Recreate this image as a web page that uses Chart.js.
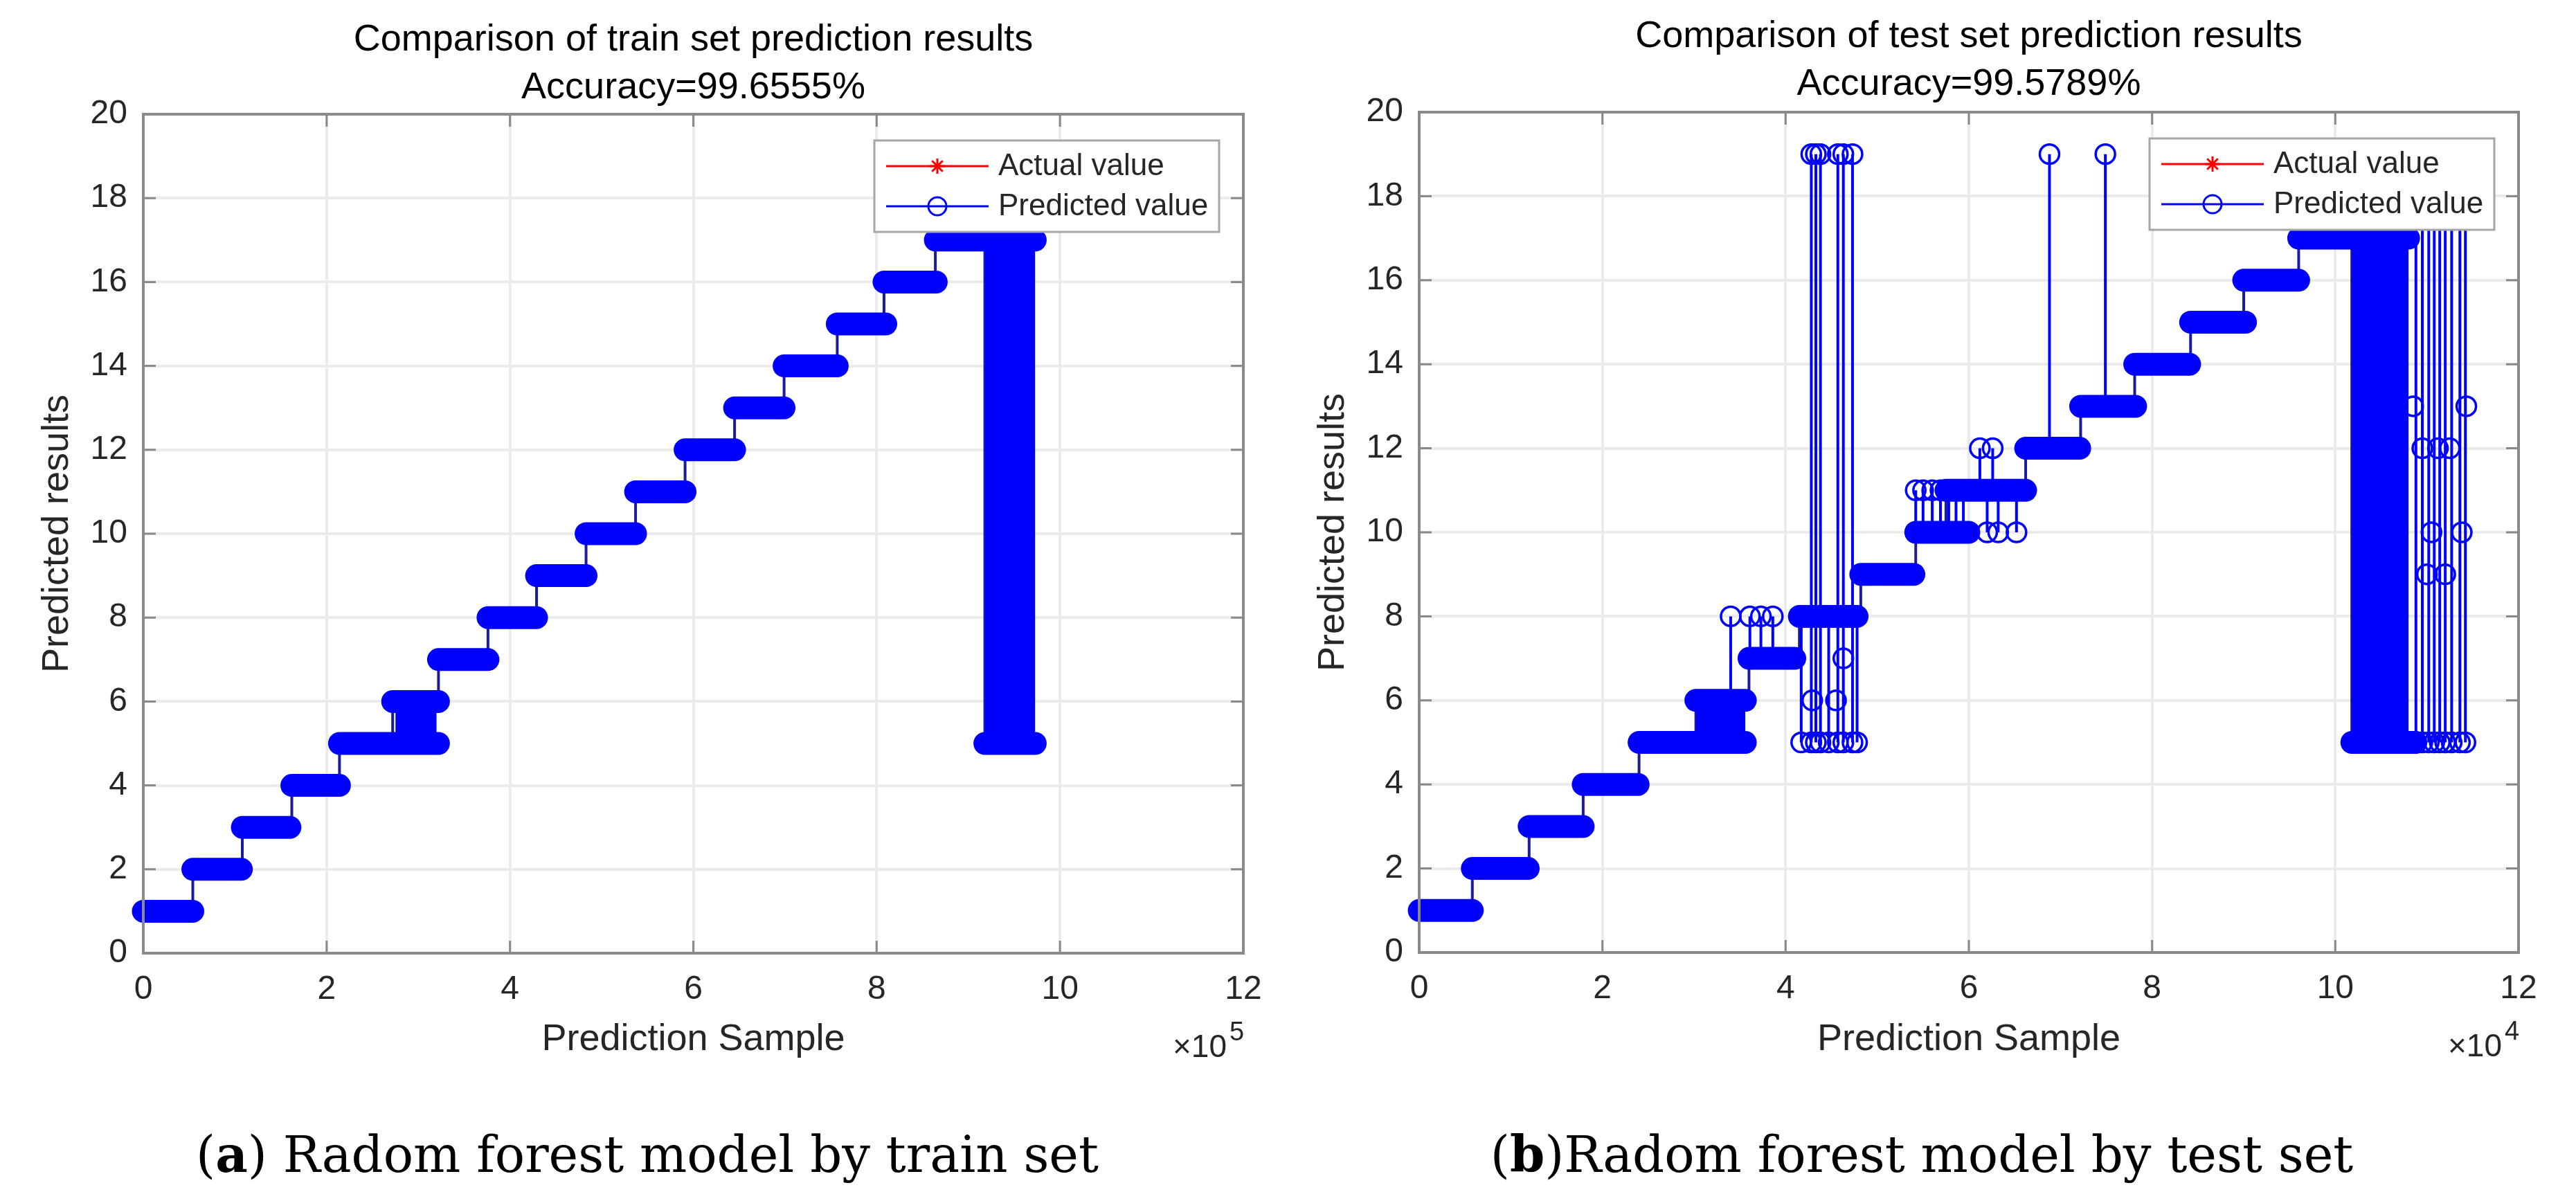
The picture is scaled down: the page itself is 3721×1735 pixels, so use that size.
<!DOCTYPE html>
<html>
<head>
<meta charset="utf-8">
<script src="https://cdn.jsdelivr.net/npm/chart.js@4.4.1/dist/chart.umd.min.js"></script>
<style>
  html, body { margin: 0; padding: 0; background: #fff; }
  body { width: 3721px; height: 1735px; position: relative; overflow: hidden; }
  canvas { position: absolute; top: 0; }
  #trainChart { left: 0; }
  #testChart { left: 1860px; }
  .caption { position: absolute; top: 1632px; font-family: "DejaVu Serif", serif; font-size: 72px; line-height: 72px; text-align: center; color: #000; white-space: nowrap; }
</style>
</head>
<body>
<canvas id="trainChart" width="1860" height="1560"></canvas>
<canvas id="testChart" width="1861" height="1560"></canvas>
<div class="caption" style="left:0;width:1870px">(<b>a</b>) Radom forest model by train set</div>
<div class="caption" style="left:1860px;width:1832px">(<b>b</b>)Radom forest model by test set</div>
<script>
// tick labels (x in units of the x10^n multiplier)
const xTicks = [0, 2, 4, 6, 8, 10, 12];
const yTicks = [0, 2, 4, 6, 8, 10, 12, 14, 16, 18, 20];

// ---- train set (x10^5 samples) ----
const trainClass = [1, 2, 3, 4, 5, 6, 7, 8, 9, 10, 11, 12, 13, 14, 15, 16, 17, 5];
const trainStart = [0.00, 0.54, 1.08, 1.62, 2.14, 2.72, 3.22, 3.76, 4.29, 4.83, 5.37, 5.91, 6.45, 6.99, 7.57, 8.08, 8.64, 9.18];
const trainEnd   = [0.54, 1.07, 1.60, 2.14, 3.22, 3.22, 3.76, 4.29, 4.83, 5.37, 5.91, 6.45, 6.99, 7.57, 8.10, 8.65, 9.73, 9.73];
// dense regions where the prediction flips back and forth
const trainBlockStart = [2.75, 9.18];
const trainBlockEnd   = [3.20, 9.73];
const trainBlockLow   = [5, 5];
const trainBlockHigh  = [6, 17];
const trainSpikeX = [];
const trainSpikeFrom = [];
const trainSpikeTo = [];
const trainStrayX = [];
const trainStrayY = [];

// ---- test set (x10^4 samples) ----
const testClass = [1, 2, 3, 4, 5, 6, 7, 8, 9, 10, 11, 12, 13, 14, 15, 16, 17, 5];
const testStart = [0.00, 0.58, 1.20, 1.79, 2.40, 3.02, 3.60, 4.15, 4.82, 5.42, 5.75, 6.62, 7.22, 7.81, 8.42, 9.00, 9.60, 10.18];
const testEnd   = [0.58, 1.19, 1.79, 2.39, 3.56, 3.56, 4.10, 4.78, 5.40, 6.00, 6.62, 7.21, 7.82, 8.41, 9.02, 9.60, 10.80, 10.88];
const testBlockStart = [3.02, 10.18];
const testBlockEnd   = [3.56, 10.80];
const testBlockLow   = [5, 5];
const testBlockHigh  = [6, 17];
// single mispredictions: vertical jump from one class to another
const testSpikeX    = [3.40, 3.61, 3.73, 3.86, 4.17, 4.28, 4.33, 4.38, 4.47, 4.57, 4.63, 4.73, 4.78,
                       5.42, 5.50, 5.60, 5.69, 5.78, 5.86, 5.94, 6.12, 6.26, 6.20, 6.32, 6.52, 6.88, 7.49,
                       10.88, 10.95, 11.02, 11.08, 11.14, 11.20, 11.27, 11.36, 11.42];
const testSpikeFrom = [6, 7, 7, 7, 8, 5, 5, 5, 8, 5, 5, 5, 8,
                       10, 10, 10, 10, 10, 10, 10, 11, 11, 11, 11, 11, 12, 13,
                       5, 5, 5, 5, 5, 5, 5, 5, 5];
const testSpikeTo   = [8, 8, 8, 8, 5, 19, 19, 19, 5, 19, 19, 19, 5,
                       11, 11, 11, 11, 11, 11, 11, 12, 12, 10, 10, 10, 19, 19,
                       18, 18, 18, 18, 18, 18, 18, 18, 18];
const testStrayX = [4.29, 4.55, 4.63, 10.85, 11.43, 10.95, 11.12, 11.25, 11.05, 11.38, 11.00, 11.20];
const testStrayY = [6, 6, 7, 13, 13, 12, 12, 12, 10, 10, 9, 9];

const FONT = '"Liberation Sans", Arial, Helvetica, sans-serif';
const BLUE = '#0000ff';
const TEXT = '#262626';
const AXIS = '#8a8a8a';
const GRID = '#ebebeb';

function bandData(cls, st, en) {
    const out = [];
    cls.forEach((c, i) => {
        out.push({ x: st[i], y: c }, { x: en[i], y: c }, { x: en[i], y: null });
    });
    return out;
}

function connectorData(cls, st) {
    const out = [];
    for (let i = 1; i < cls.length; i++) {
        out.push({ x: st[i], y: cls[i - 1] }, { x: st[i], y: cls[i] }, { x: st[i], y: null });
    }
    return out;
}

function spikeData(xs, from, to) {
    const out = [];
    xs.forEach((x, i) => {
        out.push({ x: x, y: from[i] }, { x: x, y: to[i] }, { x: x, y: null });
    });
    return out;
}

const circle = {
    pointStyle: 'circle',
    pointRadius: ctx => (ctx.raw && ctx.raw.y != null ? 14 : 0),
    pointBorderWidth: 3.5,
    pointBorderColor: BLUE,
    pointBackgroundColor: 'rgba(0,0,0,0)'
};

function buildDatasets(d) {
    const sets = [
        {
            label: 'Actual value', inLegend: true, legendMarker: 'star',
            data: bandData(d.cls, d.st, d.en),
            borderColor: '#ff0000', pointBorderColor: '#ff0000', borderWidth: 3, pointRadius: 0, order: 6
        },
        {
            label: 'Predicted value', inLegend: true, legendMarker: 'circle',
            data: bandData(d.cls, d.st, d.en),
            borderColor: BLUE, pointBorderColor: BLUE, borderWidth: 33, borderCapStyle: 'round',
            pointRadius: 0, clip: false, order: 2
        },
        {
            label: 'steps', data: connectorData(d.cls, d.st),
            borderColor: '#1c1c9a', borderWidth: 4, pointRadius: 0, order: 4
        },
        {
            label: 'spikes', data: spikeData(d.spX, d.spFrom, d.spTo),
            borderColor: BLUE, borderWidth: 4, ...circle, order: 1
        },
        {
            label: 'strays', data: d.strayX.map((x, i) => ({ x: x, y: d.strayY[i] })),
            showLine: false, ...circle, order: 0
        }
    ];
    d.bS.forEach((s, i) => {
        sets.push({
            label: 'block', data: [{ x: s, y: d.bH[i] }, { x: d.bE[i], y: d.bH[i] }],
            borderWidth: 0, pointRadius: 0, borderColor: BLUE,
            backgroundColor: BLUE, fill: { value: d.bL[i] }, order: 3
        });
    });
    return sets;
}

const framePlugin = {
    id: 'frame',
    afterDatasetsDraw(chart, args, opts) {
        const { ctx, chartArea: a, scales: { x, y } } = chart;
        ctx.save();
        ctx.strokeStyle = AXIS;
        ctx.lineWidth = 3;
        ctx.beginPath();
        xTicks.forEach(v => {
            const px = x.getPixelForValue(v);
            ctx.moveTo(px, a.bottom); ctx.lineTo(px, a.bottom - 18);
            ctx.moveTo(px, a.top); ctx.lineTo(px, a.top + 18);
        });
        yTicks.forEach(v => {
            const py = y.getPixelForValue(v);
            ctx.moveTo(a.left, py); ctx.lineTo(a.left + 18, py);
            ctx.moveTo(a.right, py); ctx.lineTo(a.right - 18, py);
        });
        ctx.stroke();
        ctx.lineWidth = 4;
        ctx.strokeRect(a.left, a.top, a.right - a.left, a.bottom - a.top);

        // legend box, top right inside the axes
        const bw = 498, bh = 132;
        const bx = a.right - 35 - bw, by = a.top + 38;
        ctx.fillStyle = '#fff';
        ctx.fillRect(bx, by, bw, bh);
        ctx.strokeStyle = '#a6a6a6';
        ctx.lineWidth = 3;
        ctx.strokeRect(bx, by, bw, bh);
        const items = chart.data.datasets.filter(ds => ds.inLegend);
        items.forEach((ds, i) => {
            const cy = by + 37 + i * 58;
            const mx = bx + 91;
            ctx.strokeStyle = ds.pointBorderColor;
            ctx.lineWidth = 3;
            ctx.beginPath();
            ctx.moveTo(bx + 17, cy); ctx.lineTo(bx + 165, cy);
            ctx.stroke();
            ctx.beginPath();
            if (ds.legendMarker === 'star') {
                const r = 11;
                for (let k = 0; k < 4; k++) {
                    const ang = k * Math.PI / 4;
                    ctx.moveTo(mx - r * Math.cos(ang), cy - r * Math.sin(ang));
                    ctx.lineTo(mx + r * Math.cos(ang), cy + r * Math.sin(ang));
                }
            } else {
                ctx.arc(mx, cy, 13, 0, Math.PI * 2);
            }
            ctx.stroke();
            ctx.fillStyle = TEXT;
            ctx.font = '44px ' + FONT;
            ctx.textAlign = 'left';
            ctx.textBaseline = 'middle';
            ctx.fillText(ds.label, bx + 179, cy + 1);
        });
        ctx.restore();
    },
    afterDraw(chart, args, opts) {
        const { ctx, chartArea: a } = chart;
        ctx.save();
        ctx.fillStyle = TEXT;
        ctx.textBaseline = 'alphabetic';
        ctx.font = '46px ' + FONT;
        ctx.textAlign = 'right';
        ctx.fillText('\u00d710', a.right - 24, a.bottom + 150);
        ctx.font = '38px ' + FONT;
        ctx.textAlign = 'left';
        ctx.fillText(opts.exponent, a.right - 20, a.bottom + 126);
        ctx.restore();
    }
};

function makeChart(id, p) {
    return new Chart(document.getElementById(id), {
        type: 'line',
        data: { datasets: buildDatasets(p.data) },
        options: {
            responsive: false,
            animation: false,
            devicePixelRatio: 1,
            layout: { padding: { left: 0, right: p.padRight, top: 0, bottom: 0 } },
            plugins: {
                legend: { display: false },
                tooltip: { enabled: false },
                frame: { exponent: p.exponent },
                title: {
                    display: true, fullSize: false, text: p.title, color: '#000',
                    font: { family: FONT, size: 54, weight: 'normal', lineHeight: 69 / 54 },
                    padding: { top: p.titleTop, bottom: p.titleBottom }
                }
            },
            scales: {
                x: {
                    type: 'linear', min: 0, max: 12,
                    afterBuildTicks: s => { s.ticks = xTicks.map(v => ({ value: v })); },
                    afterFit: s => { s.height = p.xHeight; },
                    grid: { color: GRID, lineWidth: 4, drawTicks: false },
                    border: { display: false },
                    ticks: { color: TEXT, font: { family: FONT, size: 48 }, padding: 24, maxRotation: 0, autoSkip: false },
                    title: { display: true, text: 'Prediction Sample', color: TEXT, font: { family: FONT, size: 54 }, padding: { top: 0, bottom: 25 } }
                },
                y: {
                    type: 'linear', min: 0, max: 20,
                    afterBuildTicks: s => { s.ticks = yTicks.map(v => ({ value: v })); },
                    afterFit: s => { s.width = p.yWidth; },
                    grid: { color: GRID, lineWidth: 4, drawTicks: false },
                    border: { display: false },
                    ticks: { color: TEXT, font: { family: FONT, size: 48 }, padding: 23 },
                    title: { display: true, text: 'Predicted results', color: TEXT, font: { family: FONT, size: 54 }, padding: { top: p.yTitlePad, bottom: 0 } }
                }
            }
        },
        plugins: [framePlugin]
    });
}

makeChart('trainChart', {
    title: ['Comparison of train set prediction results', 'Accuracy=99.6555%'],
    exponent: '5',
    titleTop: 23.5, titleBottom: 3.5,
    padRight: 64, yWidth: 207, xHeight: 183, yTitlePad: 51,
    data: {
        cls: trainClass, st: trainStart, en: trainEnd,
        bS: trainBlockStart, bE: trainBlockEnd, bL: trainBlockLow, bH: trainBlockHigh,
        spX: trainSpikeX, spFrom: trainSpikeFrom, spTo: trainSpikeTo,
        strayX: trainStrayX, strayY: trainStrayY
    }
});

makeChart('testChart', {
    title: ['Comparison of test set prediction results', 'Accuracy=99.5789%'],
    exponent: '4',
    titleTop: 18.5, titleBottom: 5.5,
    padRight: 83, yWidth: 190, xHeight: 184, yTitlePad: 34,
    data: {
        cls: testClass, st: testStart, en: testEnd,
        bS: testBlockStart, bE: testBlockEnd, bL: testBlockLow, bH: testBlockHigh,
        spX: testSpikeX, spFrom: testSpikeFrom, spTo: testSpikeTo,
        strayX: testStrayX, strayY: testStrayY
    }
});
</script>
</body>
</html>
